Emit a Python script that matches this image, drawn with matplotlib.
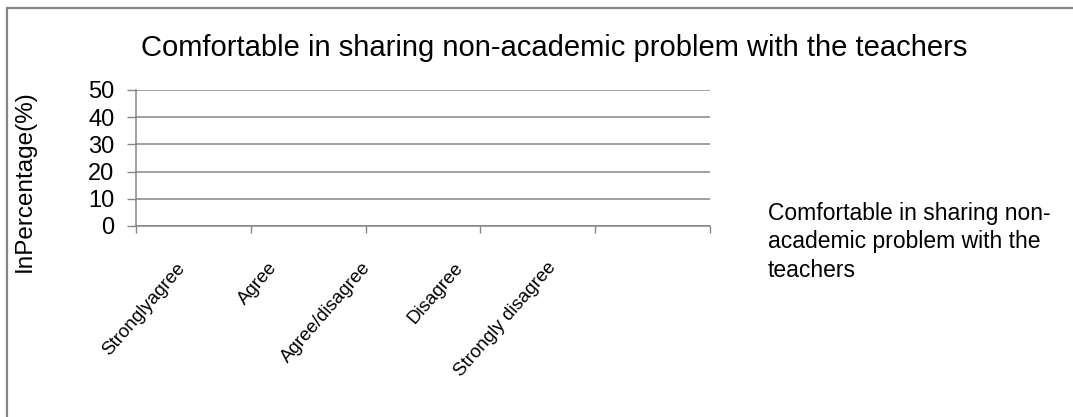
import matplotlib
matplotlib.use("Agg")
import matplotlib.pyplot as plt
from matplotlib.patches import Rectangle
from matplotlib.transforms import ScaledTranslation
import numpy as np

plt.rcParams["font.family"] = ["Liberation Sans", "DejaVu Sans"]

# ── Data ───────────────────────────────────────────────────────────────────────
categories = ["Stronglyagree", "Agree", "Agree/disagree", "Disagree", "Strongly disagree"]
values = [0, 0, 0, 0, 0]  # no bars visible in the reference
series_name = "Comfortable in sharing non-\nacademic problem with the\nteachers"
title = "Comfortable in sharing non-academic problem with the teachers"
y_ticks = [0, 10, 20, 30, 40, 50]

GRAY = "#868686"

fig = plt.figure(figsize=(10.73, 4.17), dpi=100)
fig.patch.set_facecolor("white")
ax = fig.add_axes([136 / 1073, 1 - 226 / 417, (710 - 136) / 1073, (226 - 90) / 417])

x = np.arange(len(categories))
bars = ax.bar(x, values, width=0.6, color="#4f81bd", linewidth=0, label=series_name)

ax.set_xlim(-0.5, len(categories) - 0.5)
ax.set_ylim(0, 50)
ax.set_yticks(y_ticks)
ax.tick_params(axis="y", length=6.5, width=1.0, color=GRAY, labelsize=17, pad=9)
ax.yaxis.grid(True, color=GRAY, linewidth=1.1)
ax.set_axisbelow(True)

# category boundaries as major ticks, names as minor ticks
ax.set_xticks(np.arange(len(categories) + 1) - 0.5)
ax.set_xticklabels([])
ax.set_xticks(x, minor=True)
ax.set_xticklabels(categories, minor=True, rotation=49, ha="right", va="top",
                   rotation_mode="anchor", fontsize=13.5)
ax.tick_params(axis="x", which="major", length=5, width=1.0, color=GRAY)
ax.tick_params(axis="x", which="minor", length=0, pad=24)
# excel places the rotated labels a bit to the left, more so further right
for i, lbl in enumerate(ax.get_xticklabels(minor=True)):
    dx = -(0.18 + 0.22 * i)
    lbl.set_transform(lbl.get_transform() + ScaledTranslation(dx, 0, fig.dpi_scale_trans))

for side in ["top", "right"]:
    ax.spines[side].set_visible(False)
for side in ["left", "bottom"]:
    ax.spines[side].set_color(GRAY)
    ax.spines[side].set_linewidth(1.1)

fig.text(25 / 1073, 1 - 181 / 417, "InPercentage(%)", rotation=90,
         ha="center", va="center", fontsize=17.5)
fig.text(554 / 1073, 1 - 48 / 417, title, ha="center", va="center", fontsize=21)

leg = ax.legend(loc="center left", bbox_to_anchor=(747 / 1073, 1 - 242 / 417),
                bbox_transform=fig.transFigure, frameon=False, fontsize=16.5,
                handlelength=0, handletextpad=0)
for h in leg.legend_handles:
    h.set_visible(False)
for t in leg.get_texts():
    t.set_linespacing(1.3)

# chart frame
fig.patches.append(Rectangle((7 / 1073, -0.05), 1.1, 1 - 8 / 417 + 0.05,
                             transform=fig.transFigure, fill=False,
                             edgecolor=GRAY, linewidth=1.6, clip_on=False))

fig.savefig("out.png", dpi=100, facecolor="white")
